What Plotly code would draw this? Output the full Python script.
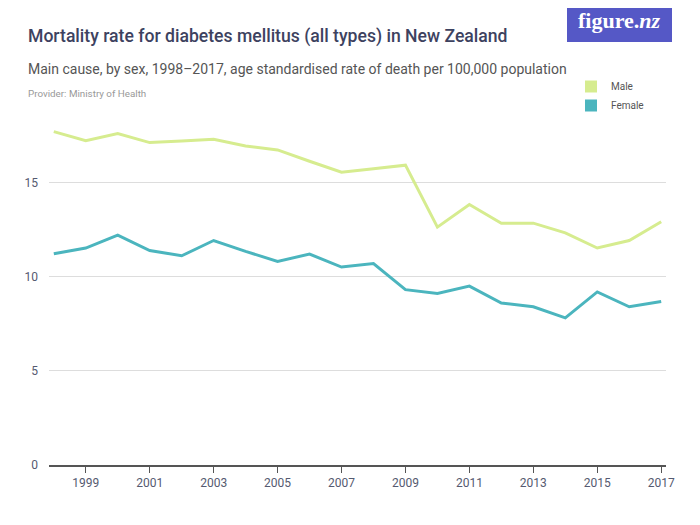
import plotly.graph_objects as go

years = list(range(1998, 2018))
male = [17.7, 17.22, 17.6, 17.12, 17.2, 17.3, 16.94, 16.73, 16.13, 15.55,
        15.73, 15.92, 12.63, 13.83, 12.84, 12.84, 12.33, 11.52, 11.92, 12.92]
female = [11.22, 11.52, 12.21, 11.39, 11.11, 11.92, 11.34, 10.81, 11.2, 10.51,
          10.7, 9.31, 9.11, 9.5, 8.6, 8.4, 7.81, 9.19, 8.4, 8.68]
tick_years = list(range(1999, 2018, 2))
y_ticks = [0, 5, 10, 15]

MALE_C = "#d6ec8f"
FEMALE_C = "#4bb5be"
FONT = "Roboto, sans-serif"

fig = go.Figure()
fig.add_trace(go.Scatter(x=years, y=male, mode="lines", name="Male",
                         line=dict(color=MALE_C, width=3), showlegend=False))
fig.add_trace(go.Scatter(x=years, y=female, mode="lines", name="Female",
                         line=dict(color=FEMALE_C, width=3), showlegend=False))
for nm, c in [("Male", MALE_C), ("Female", FEMALE_C)]:
    fig.add_trace(go.Scatter(x=[None], y=[None], mode="markers", name=nm,
                             marker=dict(symbol="square", size=8, color=c)))

OFF = 8  # page body margin
W, H = 700 - OFF, 525 - OFF
L = 49 - OFF
T = 126 - OFF
R = W - (666 - OFF)
B = H - (465 - OFF)
pw, ph = W - L - R, H - T - B

def px(x):  # reference screen pixel -> paper
    return (x - OFF - L) / pw

def py(y):
    return 1 - (y - OFF - T) / ph

fig.update_layout(
    width=W, height=H,
    margin=dict(l=L, r=R, t=T, b=B),
    paper_bgcolor="white", plot_bgcolor="white",
    font=dict(family=FONT, color="#555a70"),
    xaxis=dict(range=[1997.85, 2017.15], tickvals=tick_years, ticks="outside",
               ticklen=6, tickcolor="#555555", showline=True, linecolor="#555555",
               linewidth=1.5, showgrid=False, zeroline=False,
               tickfont=dict(size=12, color="#555a70")),
    yaxis=dict(range=[0, 18], tickvals=y_ticks, showgrid=True, gridcolor="#dddddd",
               zeroline=False, showline=False, ticks="", ticklabelstandoff=10,
               tickfont=dict(size=12, color="#555a70")),
    legend=dict(x=px(571), y=py(72), xanchor="left", yanchor="top",
                font=dict(size=10, color="#555555"), itemsizing="constant",
                tracegroupgap=0, bgcolor="rgba(0,0,0,0)", itemwidth=30),
    showlegend=True,
)

fig.add_shape(type="rect", xref="paper", yref="paper",
              x0=px(567), x1=px(672), y0=py(42), y1=py(0),
              fillcolor="#5558c6", line=dict(width=0), layer="above")
fig.add_annotation(text="<b>figure.<i>nz</i></b>", xref="paper", yref="paper",
                   x=px(619), y=py(20), showarrow=False, xanchor="center", yanchor="middle",
                   font=dict(family="Liberation Serif, serif", size=22, color="white"))
fig.add_annotation(text="Mortality rate for diabetes mellitus (all types) in New Zealand",
                   xref="paper", yref="paper", x=px(26), y=py(36), showarrow=False,
                   xanchor="left", yanchor="middle",
                   font=dict(family=FONT, size=17.6, color="#3d4260", weight=500))
fig.add_annotation(text="Main cause, by sex, 1998–2017, age standardised rate of death per 100,000 population",
                   xref="paper", yref="paper", x=px(26), y=py(69), showarrow=False,
                   xanchor="left", yanchor="middle",
                   font=dict(family=FONT, size=14, color="#555555"))
fig.add_annotation(text="Provider: Ministry of Health",
                   xref="paper", yref="paper", x=px(26), y=py(93), showarrow=False,
                   xanchor="left", yanchor="middle",
                   font=dict(family=FONT, size=9.8, color="#999999"))

fig.write_html("out.html")
